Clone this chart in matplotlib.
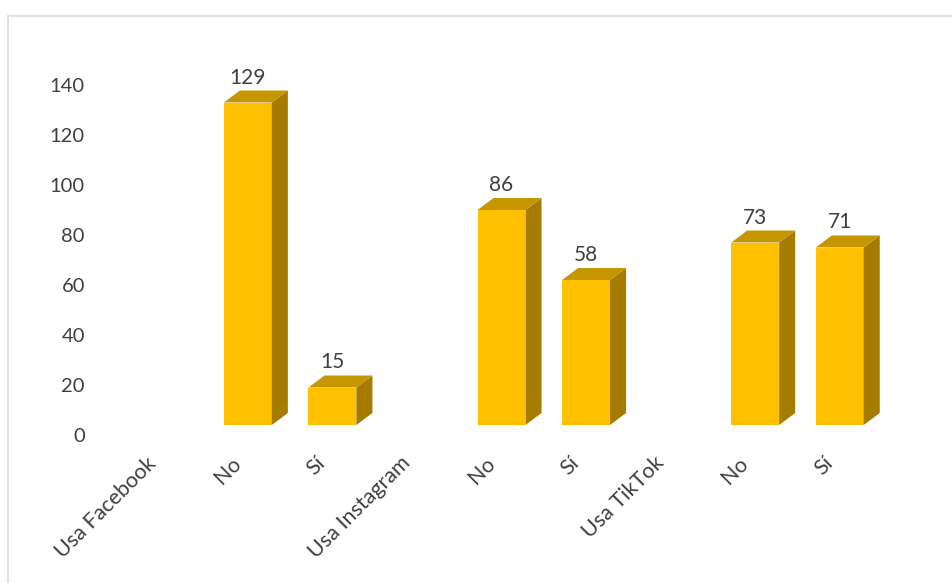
import matplotlib.pyplot as plt
import matplotlib.transforms as mtransforms
from matplotlib.patches import Rectangle

# categories on the x axis and the counts above each bar
categories = ['Usa Facebook', 'No', 'Sí', 'Usa Instagram', 'No', 'Sí', 'Usa TikTok', 'No', 'Sí']
values = [None, 129, 15, None, 86, 58, None, 73, 71]
y_ticks = [0, 20, 40, 60, 80, 100, 120, 140]

front_color = '#FFC000'
side_color = '#A67C00'
top_color = '#C69600'
text_color = '#404040'

plt.rcParams['font.family'] = ['Lato', 'DejaVu Sans']

fig = plt.figure(figsize=(9.53, 5.83), dpi=100)

# chart frame
frame = Rectangle((8 / 953, -0.02), 1.0, 1 - 16 / 583 + 0.02, transform=fig.transFigure,
                  facecolor='white', edgecolor='#d9d9d9', linewidth=1.2, zorder=1)
fig.patches.append(frame)

ax = fig.add_axes([121 / 953, 1 - 435 / 583, (882 - 121) / 953, 350 / 583])
ax.set_zorder(2)
ax.patch.set_alpha(0)

bar_w = 0.567
depth_x = 0.19
depth_y = 4.8
base = 4

for i, v in enumerate(values):
    if v is None:
        continue
    x0 = i - bar_w / 2
    x1 = i + bar_w / 2
    ax.bar(i, v, width=bar_w, bottom=base, color=front_color, zorder=3)
    top = base + v
    # right side face
    ax.fill([x1, x1 + depth_x, x1 + depth_x, x1],
            [base, base + depth_y, top + depth_y, top],
            color=side_color, zorder=3, clip_on=False, linewidth=0)
    # top face
    ax.fill([x0, x0 + depth_x, x1 + depth_x, x1],
            [top, top + depth_y, top + depth_y, top],
            color=top_color, zorder=3, clip_on=False, linewidth=0)
    ax.text(i, top + depth_y + 1.2, str(v), ha='center', va='bottom',
            fontsize=15, color=text_color)

ax.set_xlim(-0.5, len(categories) - 0.5)
ax.set_ylim(0, 140)
ax.set_yticks(y_ticks)
ax.set_yticklabels([str(t) for t in y_ticks], fontsize=14.5, color=text_color)
ax.set_xticks(range(len(categories)))
ax.set_xticklabels(categories, rotation=45, ha='right', rotation_mode='anchor',
                   fontsize=15.5, color=text_color)
ax.tick_params(axis='y', length=0, pad=26)
ax.tick_params(axis='x', length=0, pad=13)
shift = mtransforms.ScaledTranslation(-17 / 100, 0, fig.dpi_scale_trans)
for lbl in ax.get_xticklabels():
    lbl.set_transform(lbl.get_transform() + shift)
for s in ax.spines.values():
    s.set_visible(False)

fig.savefig('out.png', dpi=100)
